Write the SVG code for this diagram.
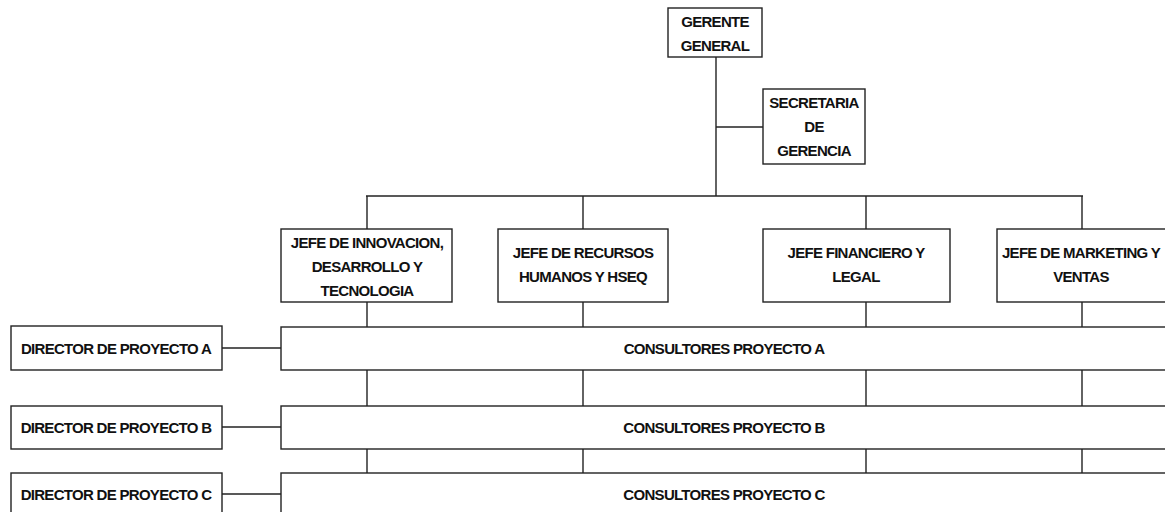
<svg xmlns="http://www.w3.org/2000/svg" width="1165" height="512" viewBox="0 0 1165 512">
<style>
rect{fill:#fff;stroke:#222;stroke-width:1.4}
line{stroke:#222;stroke-width:1.4}
text{font-family:"Liberation Sans",Arial,sans-serif;font-weight:bold;font-size:15px;letter-spacing:-0.7px;fill:#111;text-anchor:middle}
</style>
<rect x="0" y="0" width="1165" height="512" style="fill:#fff;stroke:none"/>
<g id="connectors">
<line x1="716" y1="57" x2="716" y2="196"/>
<line x1="716" y1="127" x2="763" y2="127"/>
<line x1="366" y1="196" x2="1083" y2="196"/>
<line x1="367" y1="196" x2="367" y2="229"/>
<line x1="583" y1="196" x2="583" y2="229"/>
<line x1="866" y1="196" x2="866" y2="229"/>
<line x1="1082" y1="196" x2="1082" y2="229"/>
<line x1="367" y1="302" x2="367" y2="327"/>
<line x1="583" y1="302" x2="583" y2="327"/>
<line x1="866" y1="302" x2="866" y2="327"/>
<line x1="1082" y1="302" x2="1082" y2="327"/>
<line x1="367" y1="370" x2="367" y2="406"/>
<line x1="583" y1="370" x2="583" y2="406"/>
<line x1="866" y1="370" x2="866" y2="406"/>
<line x1="1082" y1="370" x2="1082" y2="406"/>
<line x1="367" y1="449" x2="367" y2="473"/>
<line x1="583" y1="449" x2="583" y2="473"/>
<line x1="866" y1="449" x2="866" y2="473"/>
<line x1="1082" y1="449" x2="1082" y2="473"/>
<line x1="222" y1="348" x2="281" y2="348"/>
<line x1="222" y1="427" x2="281" y2="427"/>
<line x1="222" y1="494" x2="281" y2="494"/>
</g>
<g id="gerente">
<rect x="668" y="8" width="94" height="49"/>
<text x="715" y="27">GERENTE</text>
<text x="715" y="51">GENERAL</text>
</g>
<g id="secretaria">
<rect x="763" y="89" width="102" height="75"/>
<text x="814" y="108">SECRETARIA</text>
<text x="814" y="132">DE</text>
<text x="814" y="156">GERENCIA</text>
</g>
<g id="jefe-innovacion">
<rect x="281" y="229" width="171" height="73"/>
<text x="367" y="248">JEFE DE INNOVACION,</text>
<text x="367" y="272">DESARROLLO Y</text>
<text x="367" y="296">TECNOLOGIA</text>
</g>
<g id="jefe-rrhh">
<rect x="498" y="229" width="170" height="73"/>
<text x="583" y="258">JEFE DE RECURSOS</text>
<text x="583" y="282">HUMANOS Y HSEQ</text>
</g>
<g id="jefe-financiero">
<rect x="763" y="229" width="187" height="73"/>
<text x="856" y="258">JEFE FINANCIERO Y</text>
<text x="856" y="282">LEGAL</text>
</g>
<g id="jefe-marketing">
<rect x="997" y="229" width="175" height="73"/>
<text x="1081" y="258">JEFE DE MARKETING Y</text>
<text x="1081" y="282">VENTAS</text>
</g>
<g id="consultores-a">
<rect x="281" y="327" width="892" height="43"/>
<text x="724" y="354">CONSULTORES PROYECTO A</text>
</g>
<g id="consultores-b">
<rect x="281" y="406" width="892" height="43"/>
<text x="724" y="433">CONSULTORES PROYECTO B</text>
</g>
<g id="consultores-c">
<rect x="281" y="473" width="892" height="50"/>
<text x="724" y="500">CONSULTORES PROYECTO C</text>
</g>
<g id="director-a">
<rect x="11" y="326" width="211" height="44"/>
<text x="116" y="354">DIRECTOR DE PROYECTO A</text>
</g>
<g id="director-b">
<rect x="11" y="406" width="211" height="43"/>
<text x="116" y="433">DIRECTOR DE PROYECTO B</text>
</g>
<g id="director-c">
<rect x="11" y="473" width="211" height="50"/>
<text x="116" y="500">DIRECTOR DE PROYECTO C</text>
</g>
</svg>
